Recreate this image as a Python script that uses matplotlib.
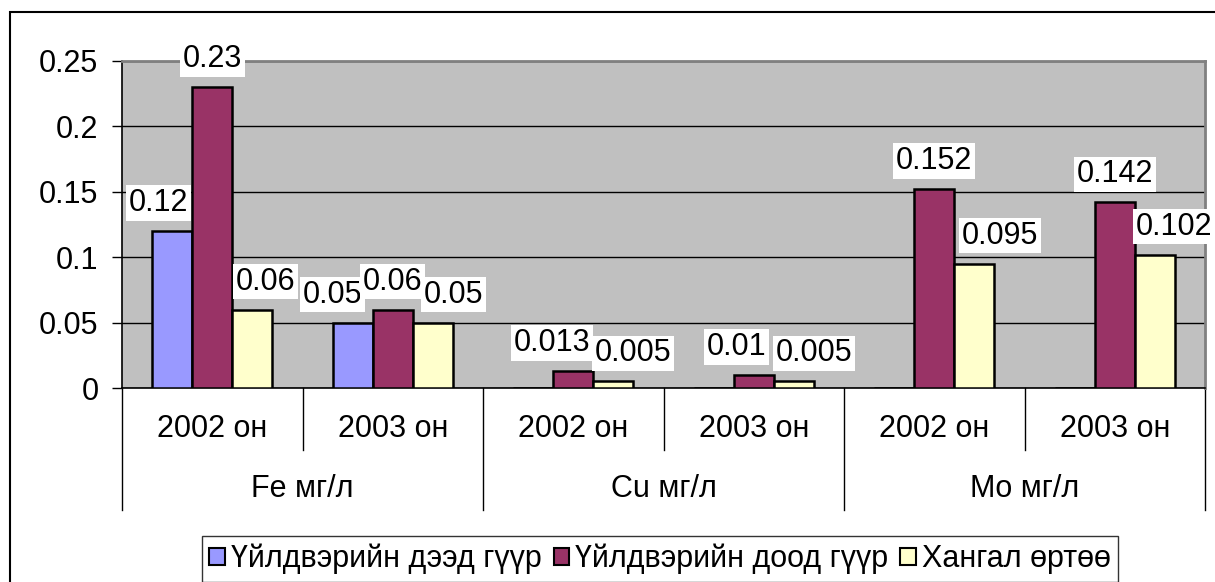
import numpy as np
import matplotlib.pyplot as plt
from matplotlib.patches import Rectangle

plt.rcParams['font.family'] = ['Liberation Sans', 'DejaVu Sans']

years = ["2002 он", "2003 он", "2002 он", "2003 он", "2002 он", "2003 он"]
groups = ["Fe мг/л", "Cu мг/л", "Mo мг/л"]
series_names = ["Үйлдвэрийн дээд гүүр", "Үйлдвэрийн доод гүүр", "Хангал өртөө"]
upper = [0.12, 0.05, np.nan, np.nan, np.nan, np.nan]
lower = [0.23, 0.06, 0.013, 0.01, 0.152, 0.142]
khangal = [0.06, 0.05, 0.005, 0.005, 0.095, 0.102]
labels_txt = [
    ["0.12", "0.05", "", "", "", ""],
    ["0.23", "0.06", "0.013", "0.01", "0.152", "0.142"],
    ["0.06", "0.05", "0.005", "0.005", "0.095", "0.102"],
]
colors = ["#9999FF", "#993366", "#FFFFCC"]
# horizontal nudges (pixels) of the value labels, as in the original layout
label_dx = [
    [-14, -20, 0, 0, 0, 0],
    [0, 0, -21, -17, 0, 0],
    [13, 21, 20, 20, 26, 19],
]

W, H = 1215, 582
fig = plt.figure(figsize=(W / 100, H / 100), dpi=100)
ax = fig.add_axes([122 / W, 1 - 388 / H, (1205 - 122) / W, (388 - 61) / H])
ax.set_facecolor("#C0C0C0")

x = np.arange(len(years))
w = 0.2216
for k, vals in enumerate([upper, lower, khangal]):
    v = np.array(vals, dtype=float)
    pos = x + (k - 1) * w
    ax.bar(pos, np.nan_to_num(v), w, color=colors[k], edgecolor="black",
           linewidth=1.8, label=series_names[k], zorder=3)
    for p, val, t, dx in zip(pos, v, labels_txt[k], label_dx[k]):
        if t:
            ax.annotate(t, (p, val), xytext=(dx, 20), textcoords="offset pixels",
                        ha="center", va="baseline", fontsize=22,
                        bbox=dict(facecolor="white", edgecolor="none", pad=2),
                        zorder=4, annotation_clip=False)

ax.set_xlim(-0.5, 5.5)
ax.set_ylim(0, 0.25)
ax.set_yticks([0, 0.05, 0.1, 0.15, 0.2, 0.25])
ax.set_yticklabels(["0", "0.05", "0.1", "0.15", "0.2", "0.25"])
ax.tick_params(axis="y", labelsize=22, length=7, width=1, direction="out", pad=10)
ax.yaxis.grid(True, color="black", linewidth=1)
ax.set_axisbelow(True)
ax.set_xticks([])
for s in ["top", "right"]:
    ax.spines[s].set_color("#808080")
    ax.spines[s].set_linewidth(2)
ax.spines["left"].set_linewidth(1.2)
ax.spines["bottom"].set_linewidth(1.2)

# two-level category axis
trans = ax.get_xaxis_transform()
for b in [0.5, 2.5, 4.5]:
    ax.plot([b, b], [0, -0.19], color="black", lw=1, transform=trans, clip_on=False)
for b in [-0.5, 1.5, 3.5, 5.5]:
    ax.plot([b, b], [0, -0.373], color="black", lw=1, transform=trans, clip_on=False)
for i, t in enumerate(years):
    ax.text(i, -0.125, t, transform=trans, ha="center", va="center", fontsize=22)
for g, t in enumerate(groups):
    ax.text(2 * g + 0.5, -0.309, t, transform=trans, ha="center", va="center", fontsize=22)

leg = fig.legend(loc="center", bbox_to_anchor=(660 / W, 1 - 559 / H), ncol=3, fontsize=22,
                 frameon=True, fancybox=False, edgecolor="black", handlelength=0.5,
                 handleheight=0.5, handletextpad=0.2, columnspacing=0.4,
                 borderpad=0.25, borderaxespad=0)
leg.get_frame().set_linewidth(1)
for hnd in leg.legend_handles:
    hnd.set_linewidth(1.5)

# chart border (right and bottom edges fall outside the image)
fig.patches.append(Rectangle((10 / W, -0.5), 2, 0.5 + 1 - 12 / H,
                             transform=fig.transFigure, fill=False,
                             edgecolor="black", linewidth=1.5))

fig.savefig("out.png", dpi=100)
